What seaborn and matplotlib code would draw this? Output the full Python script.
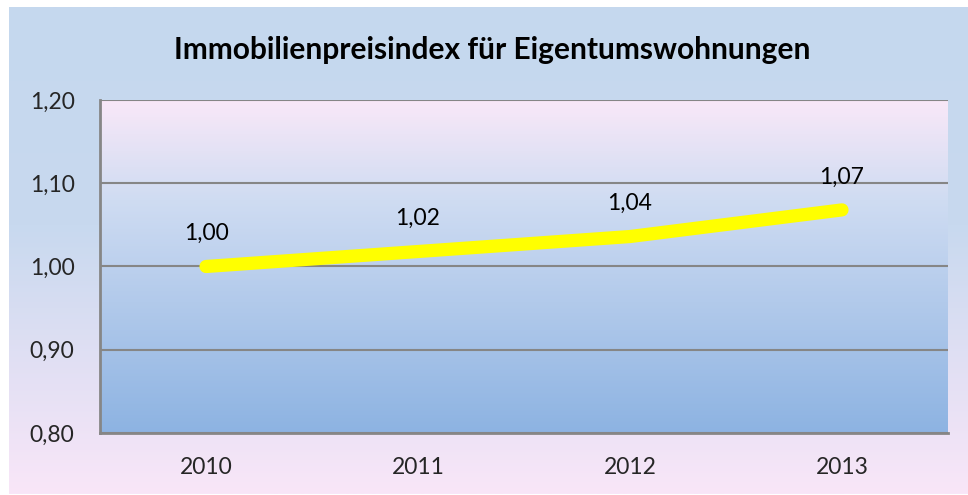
import numpy as np
import pandas as pd
import seaborn as sb
import matplotlib.pyplot as plt
from matplotlib.colors import LinearSegmentedColormap
from matplotlib.ticker import FuncFormatter

years = ['2010', '2011', '2012', '2013']
index_values = [1.00, 1.018, 1.036, 1.068]
y_ticks = [0.80, 0.90, 1.00, 1.10, 1.20]
title = 'Immobilienpreisindex für Eigentumswohnungen'

sb.set_style('white')
plt.rcParams['font.family'] = ['Lato', 'DejaVu Sans']

df = pd.DataFrame({'Jahr': years, 'Index': index_values})

W, H = 968, 495
fig = plt.figure(figsize=(W / 100, H / 100), dpi=100)
fig.patch.set_facecolor('white')

# outer chart area gradient (blue top -> pink bottom)
bg = fig.add_axes([9 / W, 1 / H, 959 / W, 487 / H])
outer_cmap = LinearSegmentedColormap.from_list(
    'outer', [(0.0, '#c5d8ee'), (0.45, '#c8d9ef'), (1.0, '#f9e6f8')])
grad = np.linspace(0, 1, 256).reshape(-1, 1)
bg.imshow(grad, cmap=outer_cmap, aspect='auto', extent=[0, 1, 1, 0])
bg.set_axis_off()

# plot area
ax = fig.add_axes([100 / W, (H - 433) / H, 848 / W, 333 / H])
inner_cmap = LinearSegmentedColormap.from_list(
    'inner', [(0.0, '#f9e8f8'), (0.3, '#cfdcf2'), (1.0, '#8db3e2')])
ax.imshow(grad, cmap=inner_cmap, aspect='auto',
          extent=[-0.5, len(years) - 0.5, 0.80, 1.20], zorder=0)

sb.lineplot(data=df, x='Jahr', y='Index', ax=ax, color='#ffff00',
            linewidth=9.5, solid_capstyle='round', zorder=3)

for i, v in enumerate(index_values):
    ax.annotate(f'{v:.2f}'.replace('.', ','), (i, v), xytext=(0, 33),
                textcoords='offset pixels', ha='center', va='center',
                fontsize=16.5, color='black', zorder=4)

ax.set_xlim(-0.5, len(years) - 0.5)
ax.set_ylim(0.80, 1.20)
ax.set_yticks(y_ticks)
ax.yaxis.set_major_formatter(FuncFormatter(lambda v, p: f'{v:.2f}'.replace('.', ',')))
ax.set_xticks(range(len(years)))
ax.set_xticklabels(years)
ax.set_xticks(np.arange(-0.5, len(years)), minor=True)
ax.tick_params(axis='x', which='major', length=0, pad=17, labelsize=16.5)
ax.tick_params(axis='x', which='minor', length=5.8, width=1.5, color='#868686', direction='out')
ax.tick_params(axis='y', length=5.8, width=1.5, color='#868686', direction='out', pad=12.5, labelsize=16.5)
ax.set_xlabel('')
ax.set_ylabel('')
ax.grid(axis='y', color='#868686', linewidth=1.5, zorder=1)
ax.set_axisbelow(False)
for s in ['top', 'right']:
    ax.spines[s].set_visible(False)
for s in ['left', 'bottom']:
    ax.spines[s].set_color('#868686')
    ax.spines[s].set_linewidth(2)

fig.text(492 / W, 1 - 50 / H, title, ha='center', va='center',
         fontsize=21.5, fontweight='bold', color='black')

fig.savefig('out.png', dpi=100)
